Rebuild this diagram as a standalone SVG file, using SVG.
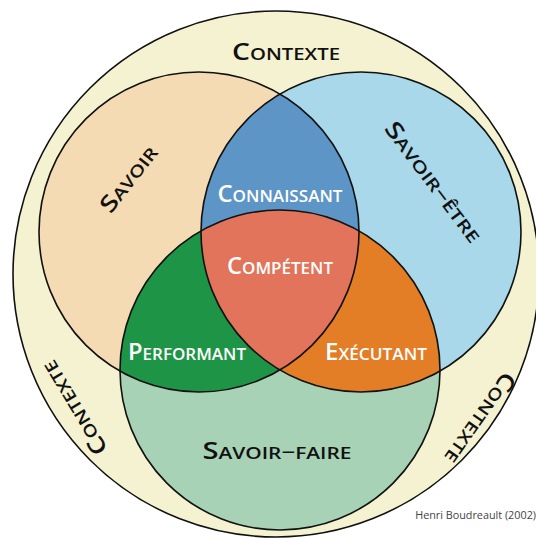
<svg xmlns="http://www.w3.org/2000/svg" width="536" height="538" viewBox="0 0 536 538">
<style>
.lbl{font-family:"Open Sans","Liberation Sans",sans-serif;font-weight:600;font-size:16.5px;text-anchor:middle}
.big{font-size:23px}
.dash{font-size:19px}
.dark{fill:#111}
.light{fill:#fff}
.ring{fill:none;stroke:#111;stroke-width:1.6}
.credit{font-family:"Open Sans","Liberation Sans",sans-serif;font-size:10.8px;fill:#444;text-anchor:end}
</style>
<defs>
<clipPath id="cSavoir"><circle cx="199" cy="232" r="160"/></clipPath>
<clipPath id="cEtre"><circle cx="361" cy="232" r="160"/></clipPath>
<clipPath id="cFaire"><circle cx="280" cy="370" r="160"/></clipPath>
</defs>
<rect width="536" height="538" fill="#fff"/>
<g id="contexte">
<circle cx="276" cy="274" r="263" fill="#f4f2d0" stroke="#111" stroke-width="1.6"/>
<text class="lbl dark" x="286" y="60" textLength="108" lengthAdjust="spacingAndGlyphs"><tspan class="big">C</tspan>ONTEXTE</text>
<text class="lbl dark" transform="translate(76,407) rotate(-121)" y="6" textLength="106" lengthAdjust="spacingAndGlyphs"><tspan class="big">C</tspan>ONTEXTE</text>
<text class="lbl dark" transform="translate(479,417) rotate(125)" y="6" textLength="106" lengthAdjust="spacingAndGlyphs"><tspan class="big">C</tspan>ONTEXTE</text>
</g>
<g id="savoir">
<circle cx="199" cy="232" r="160" fill="#f5dbb3"/>
</g>
<g id="savoir-etre">
<circle cx="361" cy="232" r="160" fill="#a8d8e9"/>
</g>
<g id="savoir-faire">
<circle cx="280" cy="370" r="160" fill="#a7d2b5"/>
</g>
<g id="connaissant">
<g clip-path="url(#cEtre)"><circle cx="199" cy="232" r="160" fill="#5c95c6"/></g>
</g>
<g id="performant">
<g clip-path="url(#cFaire)"><circle cx="199" cy="232" r="160" fill="#1e9447"/></g>
</g>
<g id="executant">
<g clip-path="url(#cFaire)"><circle cx="361" cy="232" r="160" fill="#e37d26"/></g>
</g>
<g id="competent">
<g clip-path="url(#cFaire)"><g clip-path="url(#cEtre)"><circle cx="199" cy="232" r="160" fill="#e1745a"/></g></g>
</g>
<g id="outlines">
<circle class="ring" cx="199" cy="232" r="160"/>
<circle class="ring" cx="361" cy="232" r="160"/>
<circle class="ring" cx="280" cy="370" r="160"/>
</g>
<g id="labels">
<text class="lbl dark" transform="translate(130,180) rotate(-52)" y="6" textLength="78" lengthAdjust="spacingAndGlyphs"><tspan class="big">S</tspan>AVOIR</text>
<text class="lbl dark" transform="translate(432,183) rotate(53)" y="6" textLength="145" lengthAdjust="spacingAndGlyphs"><tspan class="big">S</tspan>AVOIR<tspan class="dash">−</tspan>ÊTRE</text>
<text class="lbl dark" x="277" y="459" textLength="149" lengthAdjust="spacingAndGlyphs"><tspan class="big">S</tspan>AVOIR<tspan class="dash">−</tspan>FAIRE</text>
<text class="lbl light" x="280" y="202" textLength="125" lengthAdjust="spacingAndGlyphs"><tspan class="big">C</tspan>ONNAISSANT</text>
<text class="lbl light" x="280" y="274" textLength="106" lengthAdjust="spacingAndGlyphs"><tspan class="big">C</tspan>OMPÉTENT</text>
<text class="lbl light" x="187" y="360" textLength="118" lengthAdjust="spacingAndGlyphs"><tspan class="big">P</tspan>ERFORMANT</text>
<text class="lbl light" x="376" y="360" textLength="102" lengthAdjust="spacingAndGlyphs"><tspan class="big">E</tspan>XÉCUTANT</text>
</g>
<g id="connectors"/>
<text class="credit" x="536" y="519">Henri Boudreault (2002)</text>
</svg>
